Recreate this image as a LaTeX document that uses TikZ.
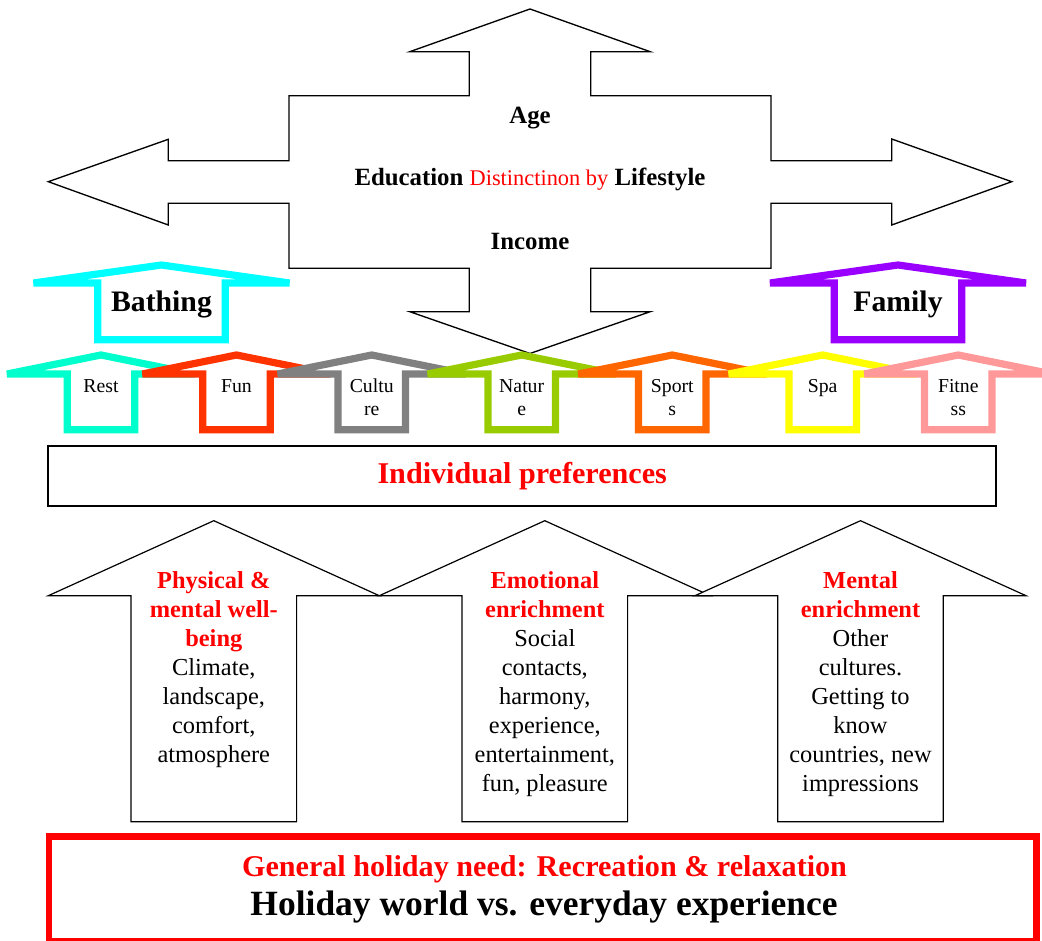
\documentclass[tikz,border=0pt]{standalone}
\usepackage{fontspec}
\setmainfont{Liberation Serif}
\definecolor{cBath}{HTML}{00FFFF}
\definecolor{cFam}{HTML}{9900FF}
\definecolor{cRest}{HTML}{00FFCC}
\definecolor{cFun}{HTML}{FF3300}
\definecolor{cCult}{HTML}{808080}
\definecolor{cNat}{HTML}{99CC00}
\definecolor{cSport}{HTML}{FF6600}
\definecolor{cSpa}{HTML}{FFFF00}
\definecolor{cFit}{HTML}{FF9999}
\definecolor{cRed}{HTML}{FF0000}
\newcommand{\smallhouse}[2]{%
  \draw[househ, draw=#2] (#1-94,374) -- (#1,355) -- (#1+94,374) -- (#1+33.75,374)
    -- (#1+33.75,429.7) -- (#1-33.75,429.7) -- (#1-33.75,374) -- cycle;}
\newcommand{\bighouse}[2]{%
  \draw[househ, draw=#2] (#1-128,283) -- (#1,265) -- (#1+128,283) -- (#1+63.7,283)
    -- (#1+63.7,339.7) -- (#1-63.7,339.7) -- (#1-63.7,283) -- cycle;}
\newcommand{\needarrow}[1]{%
  \draw[bigarrow] (#1-165.5,595.7) -- (#1,520.7) -- (#1+165.5,595.7) -- (#1+82.8,595.7)
    -- (#1+82.8,821.7) -- (#1-82.8,821.7) -- (#1-82.8,595.7) -- cycle;}
\begin{document}
\begin{tikzpicture}[x=0.75pt,y=-0.75pt,
  househ/.style={line width=5.4pt, miter limit=2, fill=white},
  bigarrow/.style={draw=black, line width=0.9pt, fill=white},
  lbl/.style={anchor=base, inner sep=0pt, align=center},
  toptxt/.style={lbl, font=\fontsize{18.6}{22}\selectfont\bfseries},
  hlbl/.style={lbl, font=\fontsize{14.8}{17.25}\selectfont},
  blbl/.style={lbl, font=\fontsize{22.3}{26}\selectfont\bfseries},
  atxt/.style={lbl, font=\fontsize{18.3}{21.75}\selectfont}]
\useasboundingbox (0,0) rectangle (1042,941);
% cross arrow
\draw[bigarrow, line width=1pt] (48.3,181.7) -- (168.3,139.3) -- (168.3,160.7) -- (289,160.7) -- (289,95.7)
  -- (469.3,95.7) -- (469.3,51.7) -- (409.8,51.7) -- (530,9) -- (650.2,51.7) -- (590.7,51.7)
  -- (590.7,95.7) -- (771,95.7) -- (771,160.7) -- (891.7,160.7) -- (891.7,139) -- (1011.7,181.7)
  -- (891.7,225) -- (891.7,203.3) -- (771,203.3) -- (771,268.3) -- (590.7,268.3) -- (590.7,311.7)
  -- (650.2,311.7) -- (530,353.5) -- (409.8,311.7) -- (469.3,311.7) -- (469.3,268.3) -- (289,268.3)
  -- (289,203.3) -- (168.3,203.3) -- (168.3,225) -- cycle;
\node[toptxt] (age) at (530,123.3) {Age};
\node[toptxt] (edu) at (530,186) {Education \textcolor{cRed}{\mdseries\fontsize{16.8}{20}\selectfont Distinctinon by} Lifestyle};
\node[toptxt] (inc) at (530,250) {Income};
% big houses
\bighouse{161.5}{cBath}
\bighouse{898}{cFam}
\node[blbl] (bath) at (161.5,311.7) {Bathing};
\node[blbl] (fam) at (898,311.7) {Family};
% small houses
\smallhouse{101}{cRest}
\smallhouse{236.5}{cFun}
\smallhouse{371.7}{cCult}
\smallhouse{521.7}{cNat}
\smallhouse{672.3}{cSport}
\smallhouse{822.7}{cSpa}
\smallhouse{958.3}{cFit}
\node[hlbl] (rest) at (101,392.7) {Rest};
\node[hlbl] (fun) at (236.5,392.7) {Fun};
\node[hlbl] (cult) at (371.7,415.7) {Cultu\\re};
\node[hlbl] (nat) at (521.7,415.7) {Natur\\e};
\node[hlbl] (sport) at (672.3,415.7) {Sport\\s};
\node[hlbl] (spa) at (822.7,392.7) {Spa};
\node[hlbl] (fit) at (958.3,415.7) {Fitne\\ss};
% individual preferences
\draw[line width=1.5pt] (48.3,445.7) rectangle (996,505.7);
\node[lbl, font=\fontsize{22.6}{26}\selectfont\bfseries, text=cRed] (pref) at (522.2,483.3) {Individual preferences};
% need arrows
\needarrow{213.8}
\needarrow{544.8}
\needarrow{860.5}
\node[atxt] (phys) at (213.8,762.3) {\textcolor{cRed}{\bfseries Physical \&}\\\textcolor{cRed}{\bfseries mental well-}\\\textcolor{cRed}{\bfseries being}\\Climate,\\landscape,\\comfort,\\atmosphere};
\node[atxt] (emo) at (544.8,791.3) {\textcolor{cRed}{\bfseries Emotional}\\\textcolor{cRed}{\bfseries enrichment}\\Social\\contacts,\\harmony,\\experience,\\entertainment,\\fun, pleasure};
\node[atxt] (ment) at (860.5,791.3) {\textcolor{cRed}{\bfseries Mental}\\\textcolor{cRed}{\bfseries enrichment}\\Other\\cultures.\\Getting to\\know\\countries, new\\impressions};
% bottom box
\draw[draw=cRed, line width=5pt] (49,836.7) rectangle (1036.5,941.5);
\node[lbl, font=\fontsize{22.6}{26}\selectfont\bfseries, text=cRed] (gen) at (544.5,876.7) {General holiday need: Recreation \& relaxation};
\node[lbl, font=\fontsize{26.6}{30}\selectfont\bfseries] (hol) at (544,915) {Holiday world vs. everyday experience};
\end{tikzpicture}
\end{document}
